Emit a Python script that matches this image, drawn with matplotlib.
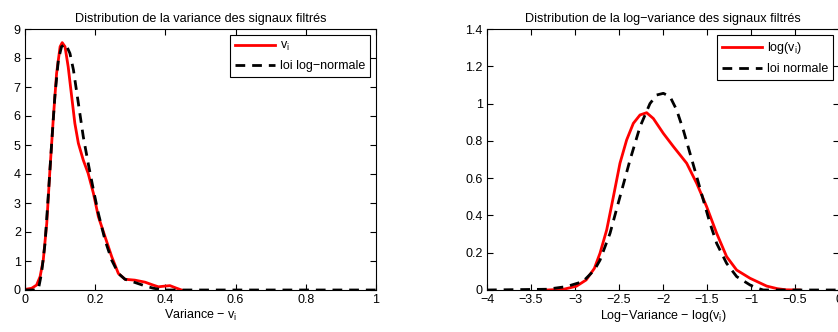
import numpy as np
import matplotlib.pyplot as plt

plt.rcParams['font.family'] = ['Liberation Sans', 'DejaVu Sans']
plt.rcParams['mathtext.fontset'] = 'custom'
plt.rcParams['mathtext.rm'] = 'Liberation Sans'
plt.rcParams['mathtext.it'] = 'Liberation Sans'

# left: variance density (estimated) vs fitted log-normal
var_x = [0, 0.019, 0.033, 0.043, 0.052, 0.062, 0.071, 0.081, 0.09, 0.1, 0.106,
         0.114, 0.123, 0.133, 0.142, 0.152, 0.166, 0.18, 0.195, 0.209, 0.228,
         0.247, 0.266, 0.285, 0.313, 0.342, 0.365, 0.38, 0.395, 0.413, 0.43, 0.446]
var_y = [0.02, 0.06, 0.17, 0.46, 1.03, 2.3, 4.14, 5.98, 7.47, 8.39, 8.53,
         8.39, 7.7, 6.67, 5.75, 5.06, 4.48, 4.02, 3.33, 2.53, 1.84,
         1.15, 0.57, 0.37, 0.34, 0.27, 0.17, 0.11, 0.13, 0.15, 0.07, 0]
lognorm_x = [0, 0.03, 0.038, 0.047, 0.057, 0.066, 0.076, 0.085, 0.095, 0.104, 0.116,
             0.128, 0.138, 0.152, 0.166, 0.18, 0.195, 0.209, 0.228, 0.247, 0.266,
             0.285, 0.313, 0.342, 0.366, 0.385, 0.4, 1.0]
lognorm_y = [0, 0, 0.02, 0.57, 1.6, 3.2, 5.06, 6.67, 7.93, 8.39, 8.48,
             8.16, 7.59, 6.44, 5.29, 4.37, 3.45, 2.64, 1.72, 1.03, 0.57,
             0.37, 0.26, 0.14, 0.06, 0.02, 0, 0]

# right: log-variance density vs fitted normal
logv_x = [-3.32, -3.13, -2.985, -2.873, -2.78, -2.716, -2.64, -2.564, -2.489, -2.413,
          -2.337, -2.261, -2.186, -2.11, -1.996, -1.883, -1.731, -1.617, -1.504,
          -1.39, -1.277, -1.163, -1.011, -0.822, -0.7, -0.6, -0.45]
logv_y = [0, 0.004, 0.02, 0.054, 0.116, 0.197, 0.322, 0.5, 0.68, 0.805,
          0.894, 0.939, 0.951, 0.92, 0.84, 0.77, 0.68, 0.572, 0.447,
          0.304, 0.179, 0.107, 0.063, 0.021, 0.007, 0.001, 0]
norm_x = [-4, -3.32, -3.1, -2.91, -2.78, -2.716, -2.602, -2.489, -2.375, -2.261,
          -2.148, -2.072, -1.996, -1.92, -1.845, -1.769, -1.693, -1.617, -1.542,
          -1.466, -1.39, -1.277, -1.163, -1.011, -0.93, -0.86, 0]
norm_y = [0, 0.004, 0.018, 0.045, 0.107, 0.16, 0.304, 0.5, 0.697, 0.876,
          1.0, 1.046, 1.055, 1.037, 0.966, 0.858, 0.733, 0.608, 0.483,
          0.358, 0.25, 0.143, 0.072, 0.027, 0.01, 0, 0]

fig = plt.figure(figsize=(8.38, 3.32), dpi=100)
ax1 = fig.add_axes([25/838, 42/332, 351/838, 261/332])
ax2 = fig.add_axes([487/838, 42/332, 352/838, 261/332])

dash = (0, (3.5, 2.5))
ax1.plot(var_x, var_y, color='red', lw=2, label='v$_{\\rm i}$')
ax1.plot(lognorm_x, lognorm_y, color='black', lw=2, linestyle=dash, label='loi log\u2212normale')
ax1.set_xlim(0, 1)
ax1.set_ylim(0, 9)
ax1.set_xticks(np.arange(0, 1.01, 0.2))
ax1.set_xticklabels(['0', '0.2', '0.4', '0.6', '0.8', '1'])
ax1.set_yticks(range(10))
ax1.set_title('Distribution de la variance des signaux filtrés', fontsize=9.1, pad=5)
ax1.set_xlabel('Variance \u2212 v$_{\\rm i}$', fontsize=9, labelpad=1)

ax2.plot(logv_x, logv_y, color='red', lw=2, label='log(v$_{\\rm i}$)')
ax2.plot(norm_x, norm_y, color='black', lw=2, linestyle=dash, label='loi normale')
ax2.set_xlim(-4, 0)
ax2.set_ylim(0, 1.4)
ax2.set_xticks(np.arange(-4, 0.01, 0.5))
ax2.set_xticklabels(['\u22124', '\u22123.5', '\u22123', '\u22122.5', '\u22122',
                     '\u22121.5', '\u22121', '\u22120.5', '0'])
ax2.set_yticks(np.arange(0, 1.41, 0.2))
ax2.set_yticklabels(['0', '0.2', '0.4', '0.6', '0.8', '1', '1.2', '1.4'])
ax2.set_title('Distribution de la log\u2212variance des signaux filtrés', fontsize=9.1, pad=5)
ax2.set_xlabel('Log\u2212Variance \u2212 log(v$_{\\rm i}$)', fontsize=9, labelpad=1)

for ax in (ax1, ax2):
    ax.tick_params(direction='in', top=True, right=True, labelsize=9, length=4, pad=3)
    for s in ax.spines.values():
        s.set_linewidth(0.8)
    leg = ax.legend(loc='upper right', fontsize=9, fancybox=False, framealpha=1,
                    edgecolor='black', handlelength=3.2, borderaxespad=0.5,
                    borderpad=0.4, labelspacing=0.55, handletextpad=0.4)
    leg.get_frame().set_linewidth(0.8)

fig.savefig('out.png', dpi=100)
